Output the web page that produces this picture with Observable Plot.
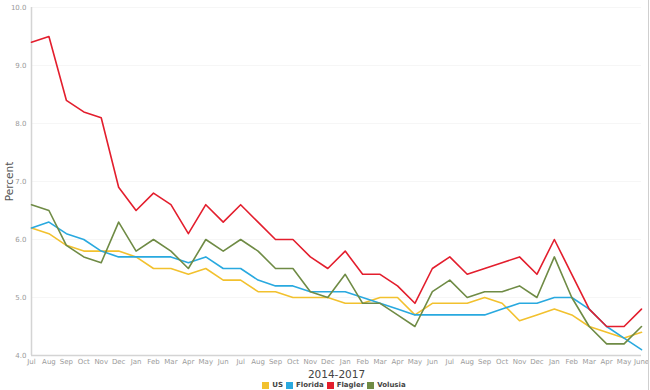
<!DOCTYPE html>
<html>
<head>
<meta charset="utf-8">
<script src="https://cdn.jsdelivr.net/npm/d3@7"></script>
<script src="https://cdn.jsdelivr.net/npm/@observablehq/plot@0.6"></script>
<style>
  body { margin: 0; background: #fff; width: 650px; height: 390px; overflow: hidden; position: relative; font-family: "DejaVu Sans", Verdana, sans-serif; }
  #edge { position: absolute; left: 648px; top: 0; width: 1px; height: 390px; background: #cfcfcf; }
  #legend { position: absolute; top: 381px; left: 0; width: 650px; display: flex; justify-content: center; align-items: center; font-size: 7px; font-weight: bold; color: #444; padding-left: 21px; box-sizing: border-box; }
  #legend span.sw { display: inline-block; width: 7px; height: 7px; margin-right: 3px; }
  #legend span.lb { margin-right: 3px; }
</style>
</head>
<body>
<div id="chart"></div>
<div id="legend"></div>
<div id="edge"></div>
<script>
const months = ["Jul","Aug","Sep","Oct","Nov","Dec","Jan","Feb","Mar","Apr","May","Jun",
                "Jul","Aug","Sep","Oct","Nov","Dec","Jan","Feb","Mar","Apr","May","Jun",
                "Jul","Aug","Sep","Oct","Nov","Dec","Jan","Feb","Mar","Apr","May","June"];
const seriesNames = ["US", "Florida", "Flagler", "Volusia"];
const seriesColors = ["#f2c12e", "#29a9df", "#e31e2d", "#6f8b45"];
const us = [6.2,6.1,5.9,5.8,5.8,5.8,5.7,5.5,5.5,5.4,5.5,5.3,5.3,5.1,5.1,5.0,5.0,5.0,4.9,4.9,5.0,5.0,4.7,4.9,4.9,4.9,5.0,4.9,4.6,4.7,4.8,4.7,4.5,4.4,4.3,4.4];
const florida = [6.2,6.3,6.1,6.0,5.8,5.7,5.7,5.7,5.7,5.6,5.7,5.5,5.5,5.3,5.2,5.2,5.1,5.1,5.1,5.0,4.9,4.8,4.7,4.7,4.7,4.7,4.7,4.8,4.9,4.9,5.0,5.0,4.8,4.5,4.3,4.1];
const flagler = [9.4,9.5,8.4,8.2,8.1,6.9,6.5,6.8,6.6,6.1,6.6,6.3,6.6,6.3,6.0,6.0,5.7,5.5,5.8,5.4,5.4,5.2,4.9,5.5,5.7,5.4,5.5,5.6,5.7,5.4,6.0,5.4,4.8,4.5,4.5,4.8];
const volusia = [6.6,6.5,5.9,5.7,5.6,6.3,5.8,6.0,5.8,5.5,6.0,5.8,6.0,5.8,5.5,5.5,5.1,5.0,5.4,4.9,4.9,4.7,4.5,5.1,5.3,5.0,5.1,5.1,5.2,5.0,5.7,5.0,4.5,4.2,4.2,4.5];
const yTicks = [4, 5, 6, 7, 8, 9, 10];
const xTitle = "2014-2017";
const yTitle = "Percent";

const allSeries = [us, florida, flagler, volusia];
const data = [];
allSeries.forEach((arr, s) => arr.forEach((v, i) => data.push({i, v, series: seriesNames[s]})));

const chart = Plot.plot({
  width: 650,
  height: 380,
  marginLeft: 31,
  marginRight: 9,
  marginTop: 7,
  marginBottom: 25,
  style: { fontFamily: "DejaVu Sans, Verdana, sans-serif", fontSize: "7px", color: "#999", background: "#fff" },
  x: { type: "linear", domain: [0, months.length - 1] },
  y: { domain: [4, 10] },
  color: { domain: seriesNames, range: seriesColors },
  marks: [
    Plot.ruleY(yTicks.slice(1), { stroke: "#f6f6f6", strokeWidth: 1 }),
    Plot.axisY({ ticks: yTicks, tickFormat: d3.format(".1f"), tickSize: 0, tickPadding: 5, label: null, fill: "#9a9a9a" }),
    Plot.axisX({ ticks: d3.range(months.length), tickFormat: i => months[i], tickSize: 0, tickPadding: 4, label: null, fill: "#9a9a9a" }),
    Plot.ruleX([0], { stroke: "#d4d4d4", strokeWidth: 1.5 }),
    Plot.ruleY([4], { stroke: "#d4d4d4", strokeWidth: 1.5 }),
    Plot.line(data, { x: "i", y: "v", z: "series", stroke: "series", strokeWidth: 1.6 }),
    Plot.text([xTitle], { text: d => d, frameAnchor: "bottom", dy: 19, lineAnchor: "middle", textAnchor: "middle", fontSize: 10.5, fill: "#444" }),
    Plot.text([yTitle], { text: d => d, frameAnchor: "left", dx: -22, textAnchor: "middle", lineAnchor: "middle", rotate: -90, fontSize: 10.5, fill: "#555" })
  ]
});
document.getElementById("chart").appendChild(chart);

const legend = document.getElementById("legend");
seriesNames.forEach((name, k) => {
  const sw = document.createElement("span");
  sw.className = "sw";
  sw.style.background = seriesColors[k];
  const lb = document.createElement("span");
  lb.className = "lb";
  lb.textContent = name;
  legend.appendChild(sw);
  legend.appendChild(lb);
});
</script>
</body>
</html>
